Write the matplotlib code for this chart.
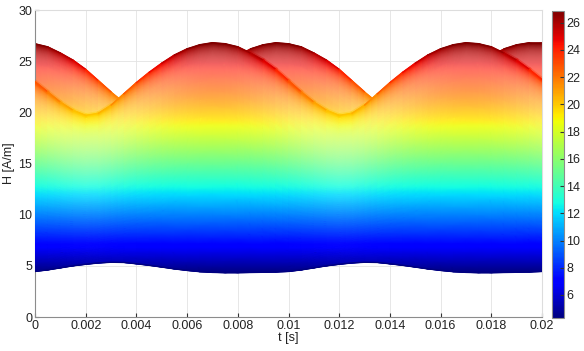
import numpy as np
import matplotlib
matplotlib.use("Agg")
import matplotlib.pyplot as plt
from matplotlib.collections import LineCollection
from matplotlib.colors import Normalize

plt.rcParams['font.family'] = ['Liberation Sans', 'DejaVu Sans']

# Tiempo [s] (paso 0.5 ms)
t = np.array([0.0000, 0.0005, 0.0010, 0.0015, 0.0020, 0.0025, 0.0030, 0.0035, 0.0040, 0.0045,
              0.0050, 0.0055, 0.0060, 0.0065, 0.0070, 0.0075, 0.0080, 0.0085, 0.0090, 0.0095,
              0.0100, 0.0105, 0.0110, 0.0115, 0.0120, 0.0125, 0.0130, 0.0135, 0.0140, 0.0145,
              0.0150, 0.0155, 0.0160, 0.0165, 0.0170, 0.0175, 0.0180, 0.0185, 0.0190, 0.0195,
              0.0200])

# Borde superior de la lamina A [A/m]
top_a = np.array([23.0, 22.0, 21.0, 20.2, 19.7, 19.9, 20.7, 21.8, 22.9, 23.9,
                  24.8, 25.6, 26.2, 26.6, 26.8, 26.7, 26.4, 25.8, 25.1, 24.2,
                  23.1, 22.0, 21.0, 20.2, 19.7, 19.9, 20.7, 21.8, 22.9, 23.9,
                  24.8, 25.6, 26.2, 26.6, 26.8, 26.7, 26.4, 25.8, 25.1, 24.2,
                  23.2])

# Borde superior de la lamina B [A/m]
top_b = np.array([26.7, 26.4, 25.8, 25.1, 24.2, 23.1, 22.0, 21.0, 20.2, 19.7,
                  19.9, 20.7, 21.8, 22.9, 23.9, 24.8, 25.6, 26.2, 26.6, 26.8,
                  26.7, 26.4, 25.8, 25.1, 24.2, 23.1, 22.0, 21.0, 20.2, 19.7,
                  19.9, 20.7, 21.8, 22.9, 23.9, 24.8, 25.6, 26.2, 26.6, 26.8,
                  26.8])

# Borde inferior comun [A/m]
bottom = np.array([4.45, 4.60, 4.80, 5.00, 5.15, 5.28, 5.35, 5.33, 5.20, 5.05,
                   4.88, 4.70, 4.55, 4.43, 4.36, 4.33, 4.33, 4.35, 4.37, 4.40,
                   4.45, 4.60, 4.80, 5.00, 5.15, 5.28, 5.35, 5.33, 5.20, 5.05,
                   4.88, 4.70, 4.55, 4.43, 4.36, 4.33, 4.33, 4.35, 4.37, 4.40,
                   4.45])

x_ticks = [0, 0.002, 0.004, 0.006, 0.008, 0.01, 0.012, 0.014, 0.016, 0.018, 0.02]
x_labels = ["0", "0.002", "0.004", "0.006", "0.008", "0.01", "0.012", "0.014", "0.016", "0.018", "0.02"]
y_ticks = [0, 5, 10, 15, 20, 25, 30]
cb_ticks = [6, 8, 10, 12, 14, 16, 18, 20, 22, 24, 26]

n_rows = 240
cmap = plt.get_cmap("jet")
norm = Normalize(vmin=4.31, vmax=26.86)


def shade(h, depth):
    # color jet segun H, aclarado en la banda bajo el borde superior
    depth = np.clip(depth, 0, None)
    rgba = cmap(norm(h))
    w = 0.48 * (1 - np.exp(-depth / 1.0)) * np.exp(-(depth / 7.0) ** 2)
    rgba[..., :3] = rgba[..., :3] * (1 - w[..., None]) + w[..., None]
    return np.clip(rgba, 0, 1)


def draw_sheet(ax, top, z):
    s = np.linspace(0, 1, n_rows)[:, None]
    X = np.tile(t, (n_rows, 1))
    Y = bottom[None, :] + s * (top - bottom)[None, :]
    C = shade(Y, top[None, :] - Y)
    ax.pcolormesh(X, Y, C, shading="gouraud", zorder=z, rasterized=True)


def draw_edge(ax, h, z, lw, alpha=1.0, shift=0.0):
    pts = np.column_stack([t, h])
    segs = np.stack([pts[:-1], pts[1:]], axis=1)
    lc = LineCollection(segs, cmap=cmap, norm=norm, linewidths=lw, zorder=z,
                        alpha=alpha, capstyle="round")
    lc.set_array(0.5 * (h[:-1] + h[1:]) + shift)
    ax.add_collection(lc)


fig = plt.figure(figsize=(5.84, 3.51), dpi=100)
ax = fig.add_axes([35 / 584, 34 / 351, 507 / 584, 307 / 351])

# Lamina B debajo, lamina A encima
draw_sheet(ax, top_b, 2)
edge_b = np.where(top_b >= top_a - 0.05, top_b, np.nan)
draw_edge(ax, edge_b, 2.5, 1.0, shift=0.3)
draw_sheet(ax, top_a, 3)
# pliegue de A dentro de la lamina B: banda saturada
fold_a = np.where(top_a <= top_b + 0.3, top_a, np.nan)
draw_edge(ax, fold_a, 3.4, 3.2, alpha=0.35)
draw_edge(ax, top_a, 3.5, 1.1, shift=0.3)
ax.plot(t, bottom, color=cmap(0.0), lw=1.0, zorder=3.6)

ax.set_xlim(0, 0.02)
ax.set_ylim(0, 30)
ax.set_xticks(x_ticks)
ax.set_xticklabels(x_labels)
ax.set_yticks(y_ticks)
ax.grid(True, color="#e3e3e3", lw=0.6, zorder=0)
ax.set_axisbelow(True)
ax.tick_params(direction="in", length=3, labelsize=9, colors="#333333", labelcolor="#222222", pad=2)
for side in ["left", "bottom"]:
    ax.spines[side].set_color("#8c8c8c")
for side in ["top", "right"]:
    ax.spines[side].set_color("#dddddd")
ax.set_xlabel("t [s]", fontsize=9, color="#222222", labelpad=0)
ax.set_ylabel("H [A/m]", fontsize=9, color="#222222", labelpad=2)

cax = fig.add_axes([552 / 584, 33 / 351, 11.5 / 584, 307 / 351])
sm = plt.cm.ScalarMappable(norm=norm, cmap=cmap)
cb = fig.colorbar(sm, cax=cax, ticks=cb_ticks)
cb.outline.set_edgecolor("#8c8c8c")
cb.ax.tick_params(direction="in", length=3, labelsize=9, colors="#333333", labelcolor="#222222", pad=2)

fig.savefig("out.png", dpi=100)
